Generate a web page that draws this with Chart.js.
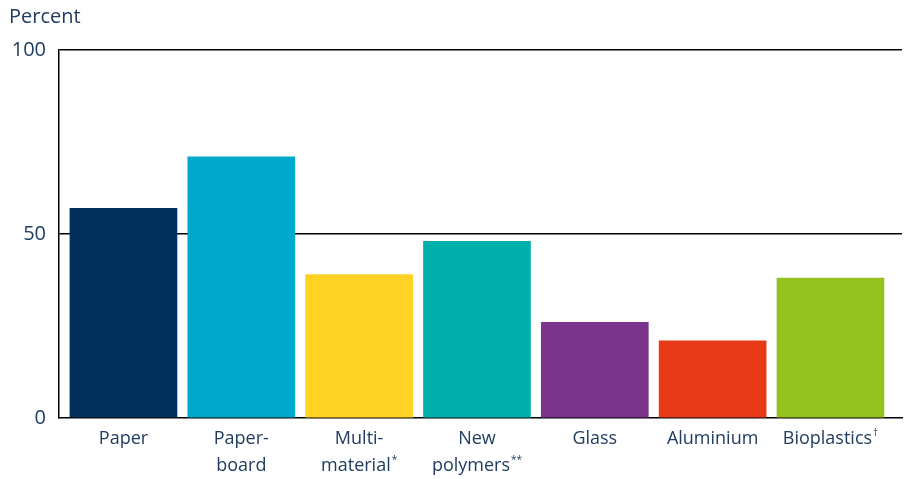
<!DOCTYPE html>
<html>
<head>
<meta charset="utf-8">
<title>Share by packaging material</title>
<script src="https://cdn.jsdelivr.net/npm/chart.js@4/dist/chart.umd.min.js"></script>
<style>
  html, body { margin: 0; padding: 0; background: #ffffff; }
  #wrap { width: 906px; height: 479px; position: relative; }
</style>
</head>
<body>
<div id="wrap"><canvas id="chart"></canvas></div>
<script>
// Category labels (line-broken as printed) with their footnote marks
const categoryLines = [
  ["Paper"],
  ["Paper-", "board"],
  ["Multi-", "material"],
  ["New", "polymers"],
  ["Glass"],
  ["Aluminium"],
  ["Bioplastics"]
];
const footnoteMarks = ["", "", "*", "**", "", "", "\u2020"];

// Values in percent
const values = [57, 71, 39, 48, 26, 21, 38];

const barColors = ["#002f5b", "#00a8cb", "#ffd223", "#00b0ad", "#7a3489", "#e63917", "#95c11f"];

const yTicks = [0, 50, 100];
const yTitle = "Percent";

const textColor = "#1f3d60";
const fontFamily = "'Open Sans', Lato, sans-serif";

// Labels under the bars, with small raised footnote marks
const labelPlugin = {
  id: "categoryLabels",
  afterDraw(chart) {
    const { ctx, chartArea } = chart;
    const xs = chart.scales.x;
    ctx.save();
    ctx.fillStyle = textColor;
    ctx.textBaseline = "middle";
    ctx.textAlign = "left";
    categoryLines.forEach((lines, i) => {
      const cx = xs.getPixelForValue(i);
      lines.forEach((line, j) => {
        const isLast = j === lines.length - 1;
        const mark = isLast ? footnoteMarks[i] : "";
        ctx.font = "18px " + fontFamily;
        const w = ctx.measureText(line).width;
        ctx.font = "10px " + fontFamily;
        const mw = mark ? ctx.measureText(mark).width + 1 : 0;
        const x0 = cx - (w + mw) / 2;
        const y = chartArea.bottom + 21 + j * 27;
        ctx.font = "18px " + fontFamily;
        ctx.fillText(line, x0, y);
        if (mark) {
          ctx.font = "10px " + fontFamily;
          ctx.fillText(mark, x0 + w + 1, y - 6);
        }
      });
    });
    // axis title
    ctx.font = "20px " + fontFamily;
    ctx.textBaseline = "middle";
    ctx.fillText(yTitle, 9, 17);
    ctx.restore();
  }
};

new Chart(document.getElementById("chart"), {
  type: "bar",
  data: {
    datasets: [{
      data: values.map((v, i) => ({ x: i, y: v })),
      backgroundColor: barColors,
      borderWidth: 0,
      barThickness: 107
    }]
  },
  options: {
    responsive: true,
    maintainAspectRatio: false,
    animation: false,
    layout: { padding: { left: 0, top: 50, right: 4, bottom: 61 } },
    plugins: {
      legend: { display: false },
      tooltip: { enabled: false }
    },
    scales: {
      x: {
        type: "linear",
        offset: false,
        min: -0.547,
        max: 6.607,
        grid: { display: false, drawTicks: false },
        border: { display: true, color: "#000000", width: 1.5 },
        ticks: { display: false }
      },
      y: {
        min: 0,
        max: 100,
        afterBuildTicks(scale) { scale.ticks = yTicks.map(v => ({ value: v })); },
        afterFit(scale) { scale.width = 59; },
        grid: {
          color: (c) => (c.tick && c.tick.value === 0 ? "rgba(0,0,0,0)" : "#000000"),
          lineWidth: 1.5,
          drawTicks: false
        },
        border: { display: true, color: "#000000", width: 1.5 },
        ticks: {
          color: textColor,
          padding: 13,
          font: { size: 20, family: fontFamily }
        }
      }
    }
  },
  plugins: [labelPlugin]
});
</script>
</body>
</html>
